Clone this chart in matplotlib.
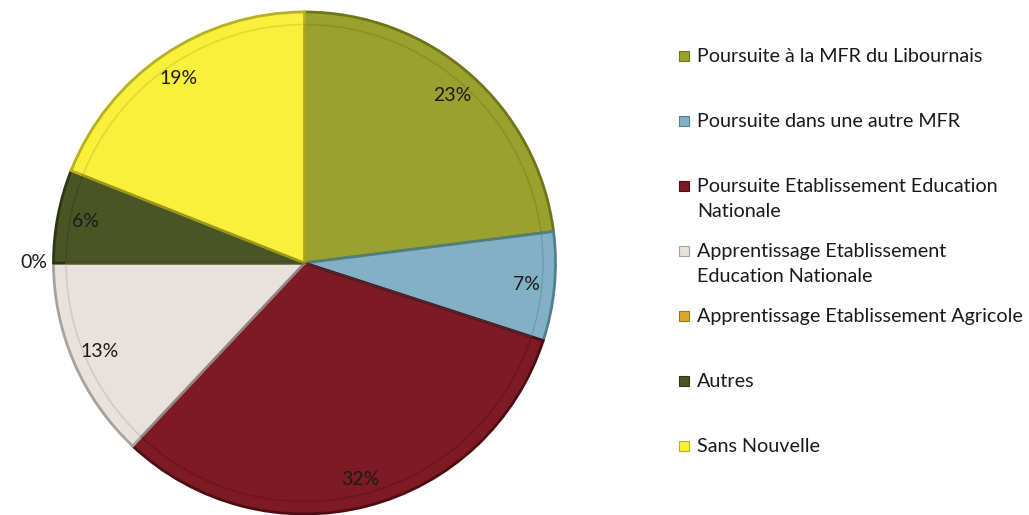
import matplotlib
matplotlib.use("Agg")
import matplotlib.pyplot as plt
from matplotlib.patches import Rectangle
import numpy as np

categories = [
    "Poursuite à la MFR du Libournais",
    "Poursuite dans une autre MFR",
    "Poursuite Etablissement Education\nNationale",
    "Apprentissage Etablissement\nEducation Nationale",
    "Apprentissage Etablissement Agricole",
    "Autres",
    "Sans Nouvelle",
]
values = [23, 7, 32, 13, 0, 6, 19]
colors = ["#9AA22E", "#82B1C6", "#7E1A23", "#E9E2DC", "#D9A92E", "#4A5526", "#F8F03A"]
edges = ["#6E7418", "#4F7F92", "#4E0C12", "#A8A29C", "#9B7418", "#2E3614", "#B8B020"]

plt.rcParams['font.family'] = ['Lato', 'DejaVu Sans']

W, H = 1029, 515
fig = plt.figure(figsize=(W / 100, H / 100), dpi=100)
cx, cy, r = 304.5, 252, 251
ax = fig.add_axes([(cx - r) / W, (cy - r) / H, 2 * r / W, 2 * r / H])

wedges, texts, autotexts = ax.pie(
    values, colors=colors, startangle=90, counterclock=False,
    autopct=lambda p: f"{p:.0f}%", pctdistance=0.89,
    wedgeprops=dict(linewidth=2.0),
    textprops=dict(fontsize=14, color="#1a1a1a"),
)
for w, ec in zip(wedges, edges):
    w.set_edgecolor(ec)
# inner bevel line
wedges2, _ = ax.pie(values, startangle=90, counterclock=False,
                    radius=0.95, wedgeprops=dict(linewidth=1.2, fill=False))
for w, ec in zip(wedges2, edges):
    w.set_edgecolor(ec)
    w.set_alpha(0.35)
for t in autotexts:
    t.set_zorder(5)
# move the zero label outside the pie
for v, t in zip(values, autotexts):
    if v == 0:
        x, y = t.get_position()
        t.set_position((x / 0.89 * 1.08, y / 0.89 * 1.08))
ax.set_xlim(-1.0, 1.0)
ax.set_ylim(-1.0, 1.0)
ax.set_aspect("equal")

# legend
top = 56
step = 65
for i, (lab, c, ec) in enumerate(zip(categories, colors, edges)):
    y = top + i * step
    fig.patches.append(Rectangle(((684 - 5) / W, 1 - (y + 5) / H), 10 / W, 10 / H,
                                 transform=fig.transFigure, facecolor=c,
                                 edgecolor=ec, linewidth=0.8))
    fig.text(697 / W, 1 - (y - 8) / H, lab, fontsize=14.2, va="top", ha="left",
             color="#1a1a1a", linespacing=1.55)

fig.savefig("out.png", dpi=100)
